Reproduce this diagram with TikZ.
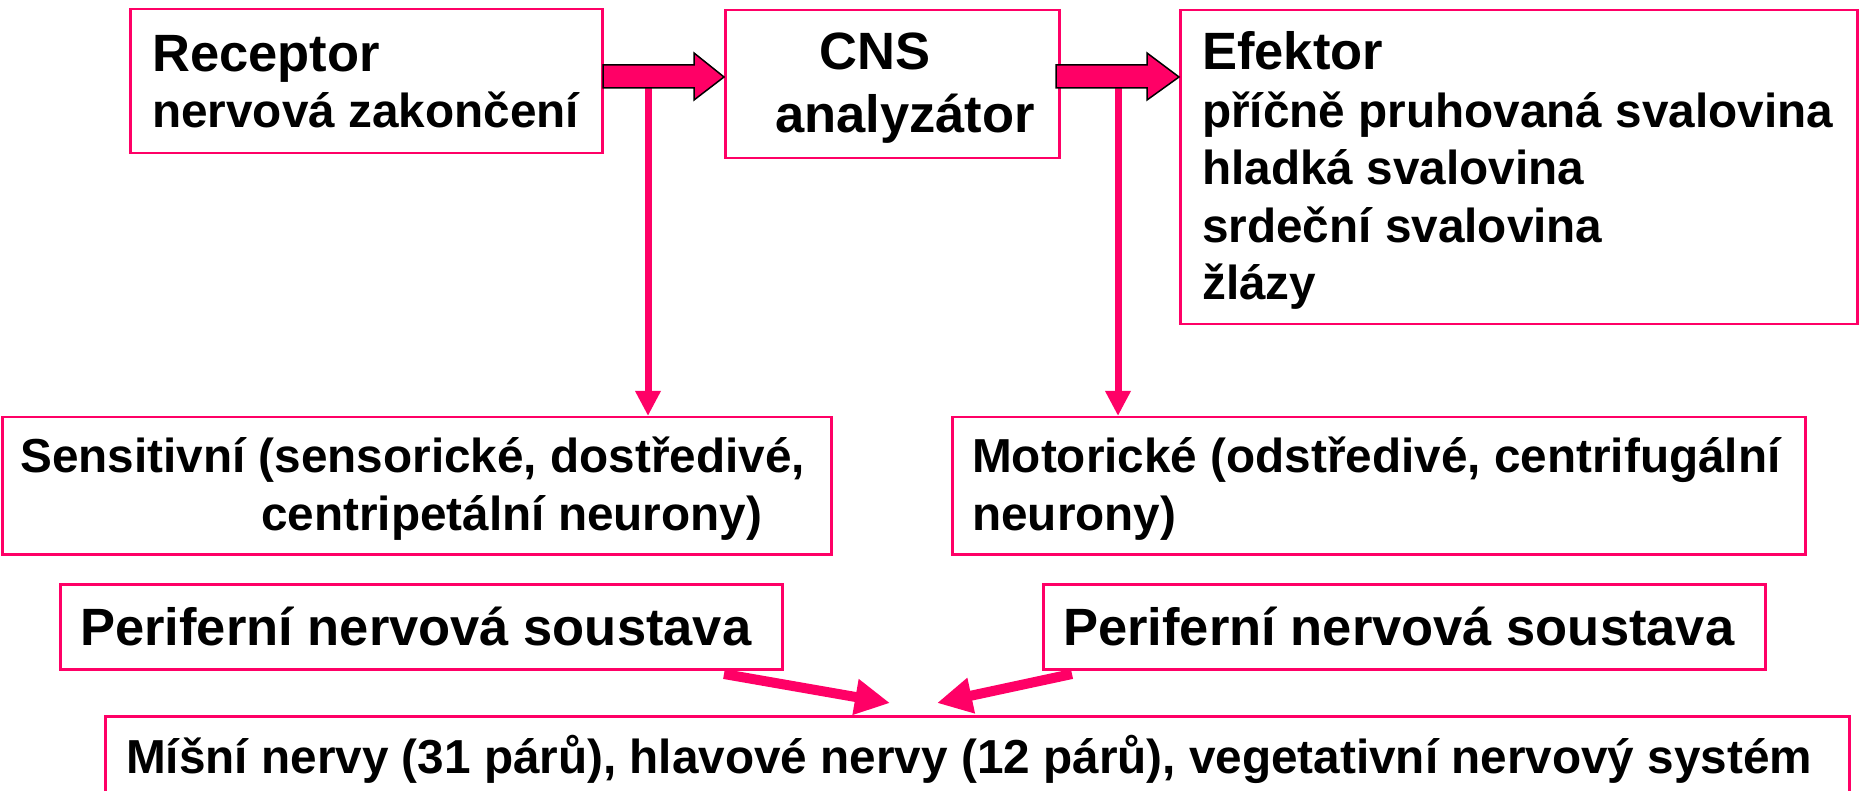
\documentclass[tikz,border=0pt]{standalone}
\usepackage{fontspec}
\setmainfont{Liberation Sans}
\usetikzlibrary{arrows.meta}
\definecolor{pk}{RGB}{255,0,102}
\begin{document}
\begin{tikzpicture}[x=1pt,y=-1pt,
  box/.style={draw=pk,line width=2.5pt,inner sep=0pt,anchor=north west},
  big/.style={inner sep=0pt,anchor=base west,font=\bfseries\fontsize{52.5}{63}\selectfont},
  norm/.style={inner sep=0pt,anchor=base west,font=\bfseries\fontsize{47.7}{57}\selectfont},
  blk/.style={fill=pk,draw=black,line width=1.5pt,line join=miter},
  vline/.style={draw=pk,line width=7pt,-{Triangle[length=25pt,width=24pt]}},
  diag/.style={draw=pk,line width=10pt,-{Triangle[length=35pt,width=34pt]}}]
\useasboundingbox (0,0) rectangle (1861,791);
\clip (0,0) rectangle (1861,791);
% boxes
\node[box,minimum width=472pt,minimum height=144pt] (rec) at (129,8) {};
\node[box,minimum width=334pt,minimum height=148pt] (cns) at (724,9) {};
\node[box,minimum width=677pt,minimum height=314pt] (efe) at (1179,9) {};
\node[box,minimum width=829pt,minimum height=137pt] (sen) at (1,416) {};
\node[box,minimum width=853pt,minimum height=137pt] (mot) at (951,416) {};
\node[box,minimum width=722pt,minimum height=85pt] (pl) at (59,583) {};
\node[box,minimum width=722pt,minimum height=85pt] (pr) at (1042,583) {};
\node[box,minimum width=1744pt,minimum height=120pt] (spn) at (104,715) {};
% texts
\node[big] (t1) at (152,72) {Receptor};
\node[norm] (t2) at (152,128) {nervová zakončení};
\node[big] (t3) at (819,70) {CNS};
\node[big] (t4) at (775,133) {analyzátor};
\node[big] (t5) at (1202,70) {Efektor};
\node[norm] (t6) at (1202,128) {příčně pruhovaná svalovina};
\node[norm] (t7) at (1202,185) {hladká svalovina};
\node[norm] (t8) at (1202,243) {srdeční svalovina};
\node[norm] (t9) at (1202,300) {žlázy};
\node[norm] (t10) at (20,472) {Sensitivní (sensorické, dostředivé,};
\node[norm] (t11) at (261,530) {centripetální neurony)};
\node[norm] (t12) at (972,472) {Motorické (odstředivé, centrifugální};
\node[norm] (t13) at (972,530) {neurony)};
\node[big] (t14) at (80,645) {Periferní nervová soustava};
\node[big] (t15) at (1063,645) {Periferní nervová soustava};
\node[norm] (t16) at (126,773) {Míšní nervy (31 párů), hlavové nervy (12 párů), vegetativní nervový systém};
% vertical connectors
\coordinate (v1) at (648,86);
\coordinate (v2) at (1118,86);
\draw[vline] (v1) -- (v1 |- sen.north);
\draw[vline] (v2) -- (v2 |- mot.north);
% block arrows
\draw[blk] (603,65) -- (694,65) -- (694,53) -- (cns.west |- 0,77) -- (694,100) -- (694,88) -- (603,88) -- cycle;
\draw[blk] (1056,65) -- (1147,65) -- (1147,53) -- (efe.west |- 0,77) -- (1147,100) -- (1147,88) -- (1056,88) -- cycle;
% diagonal arrows
\coordinate (dl) at (724,674);
\coordinate (dlt) at (890,703);
\coordinate (dr) at (1072,674);
\coordinate (drt) at (937,703);
\draw[diag] (dl) -- (dlt);
\draw[diag] (dr) -- (drt);
\end{tikzpicture}
\end{document}
